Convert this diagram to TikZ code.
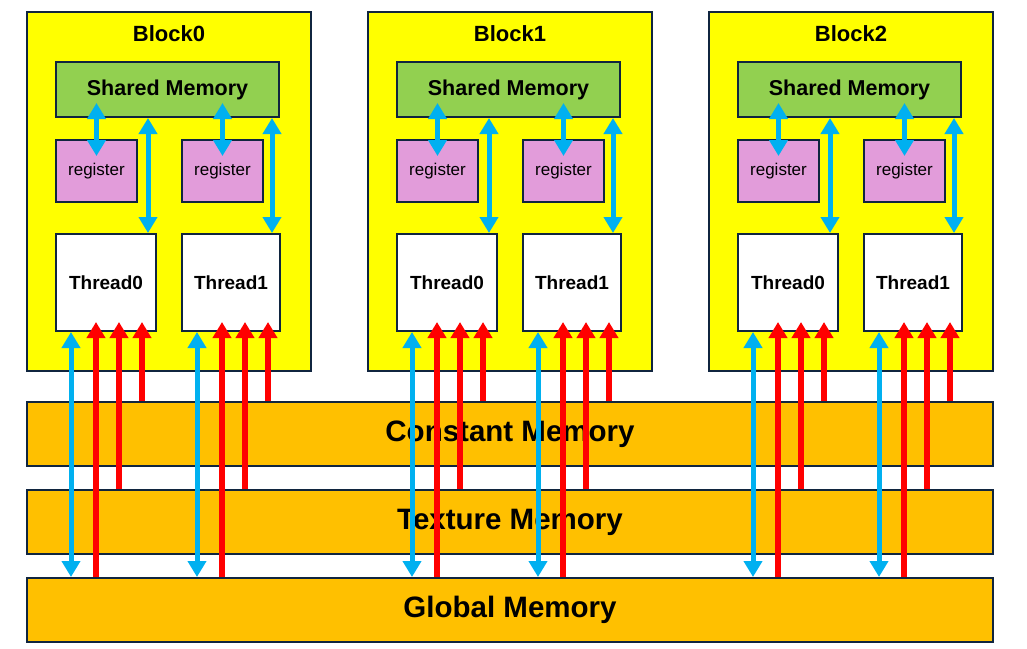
\documentclass[tikz,border=0pt]{standalone}
\usepackage{fontspec}
\setmainfont{Liberation Sans}
\usetikzlibrary{arrows.meta,positioning}

\definecolor{edgecol}{HTML}{10253F}
\definecolor{blockyellow}{HTML}{FFFF00}
\definecolor{sharedgreen}{HTML}{92D050}
\definecolor{regpink}{HTML}{E29CDA}
\definecolor{memorange}{HTML}{FFC000}
\definecolor{linkblue}{HTML}{00B0F0}
\definecolor{readred}{HTML}{FF0000}

\tikzset{
  box/.style={draw=edgecol, line width=2pt, inner sep=0pt, anchor=north west},
  blockbox/.style={box, fill=blockyellow, minimum width=284pt, minimum height=359pt},
  sharedbox/.style={box, fill=sharedgreen, minimum width=223pt, minimum height=55pt,
    font=\fontsize{21.5}{24}\selectfont\bfseries},
  regbox/.style={box, fill=regpink, minimum width=81pt, minimum height=62pt,
    font=\fontsize{17}{20}\selectfont},
  threadbox/.style={box, fill=white, minimum height=97pt,
    font=\fontsize{19}{22}\selectfont\bfseries},
  membar/.style={box, fill=memorange, minimum width=966pt, minimum height=64pt,
    font=\fontsize{29.5}{34}\selectfont\bfseries},
  blocktitle/.style={inner sep=0pt, font=\fontsize{22}{26}\selectfont\bfseries},
  blueway/.style={linkblue, line width=5pt, {Triangle[width=18pt,length=16pt]}-{Triangle[width=18pt,length=16pt]}},
  redway/.style={readred, line width=6pt, -{Triangle[width=18pt,length=16pt]}}
}

\begin{document}
\begin{tikzpicture}[x=1pt,y=-1pt]
  \useasboundingbox (0,0) rectangle (1027,648);

  % the three blocks
  \foreach \i in {0,1,2}
  {
    \pgfmathsetmacro{\bx}{26+341*\i}
    \node[blockbox] (b\i) at (\bx,11) {};
    \node[blocktitle, below=14pt of b\i.north] (bt\i) {Block\i};
    \node[sharedbox] (sm\i) at (\bx+29,61) {Shared Memory};
    \node[regbox] (r\i0) at (\bx+29,139) {register};
    \node[regbox] (r\i1) at (\bx+155,139) {register};
    \node[threadbox, minimum width=100pt] (t\i0) at (\bx+29,233) {Thread0};
    \node[threadbox, minimum width=98pt] (t\i1) at (\bx+155,233) {Thread1};
  }

  % memories below
  \node[membar] (cm) at (26,401) {Constant Memory};
  \node[membar] (tm) at (26,489) {Texture Memory};
  \node[membar] (gm) at (26,577) {Global Memory};

  % shared <-> register and shared <-> thread
  \foreach \i in {0,1,2}
  {
    \foreach \j in {0,1}
    {
      \draw[blueway] ([yshift=15pt]sm\i.south -| r\i\j.center) -- ([yshift=-17pt]r\i\j.north);
      \draw[blueway] ([xshift=-9pt]t\i\j.north east |- sm\i.south) -- ([xshift=-9pt]t\i\j.north east);
    }
  }

  % thread <-> global, reads from global, texture, constant
  \foreach \i in {0,1,2}
  {
    \foreach \j in {0,1}
    {
      \draw[blueway] ([xshift=16pt]t\i\j.south west) -- ([xshift=16pt]t\i\j.south west |- gm.north);
      \draw[redway] ([xshift=41pt]t\i\j.south west |- gm.north) -- ([xshift=41pt,yshift=10pt]t\i\j.south west);
      \draw[redway] ([xshift=64pt]t\i\j.south west |- tm.north) -- ([xshift=64pt,yshift=10pt]t\i\j.south west);
      \draw[redway] ([xshift=87pt]t\i\j.south west |- cm.north) -- ([xshift=87pt,yshift=10pt]t\i\j.south west);
    }
  }

\end{tikzpicture}
\end{document}
